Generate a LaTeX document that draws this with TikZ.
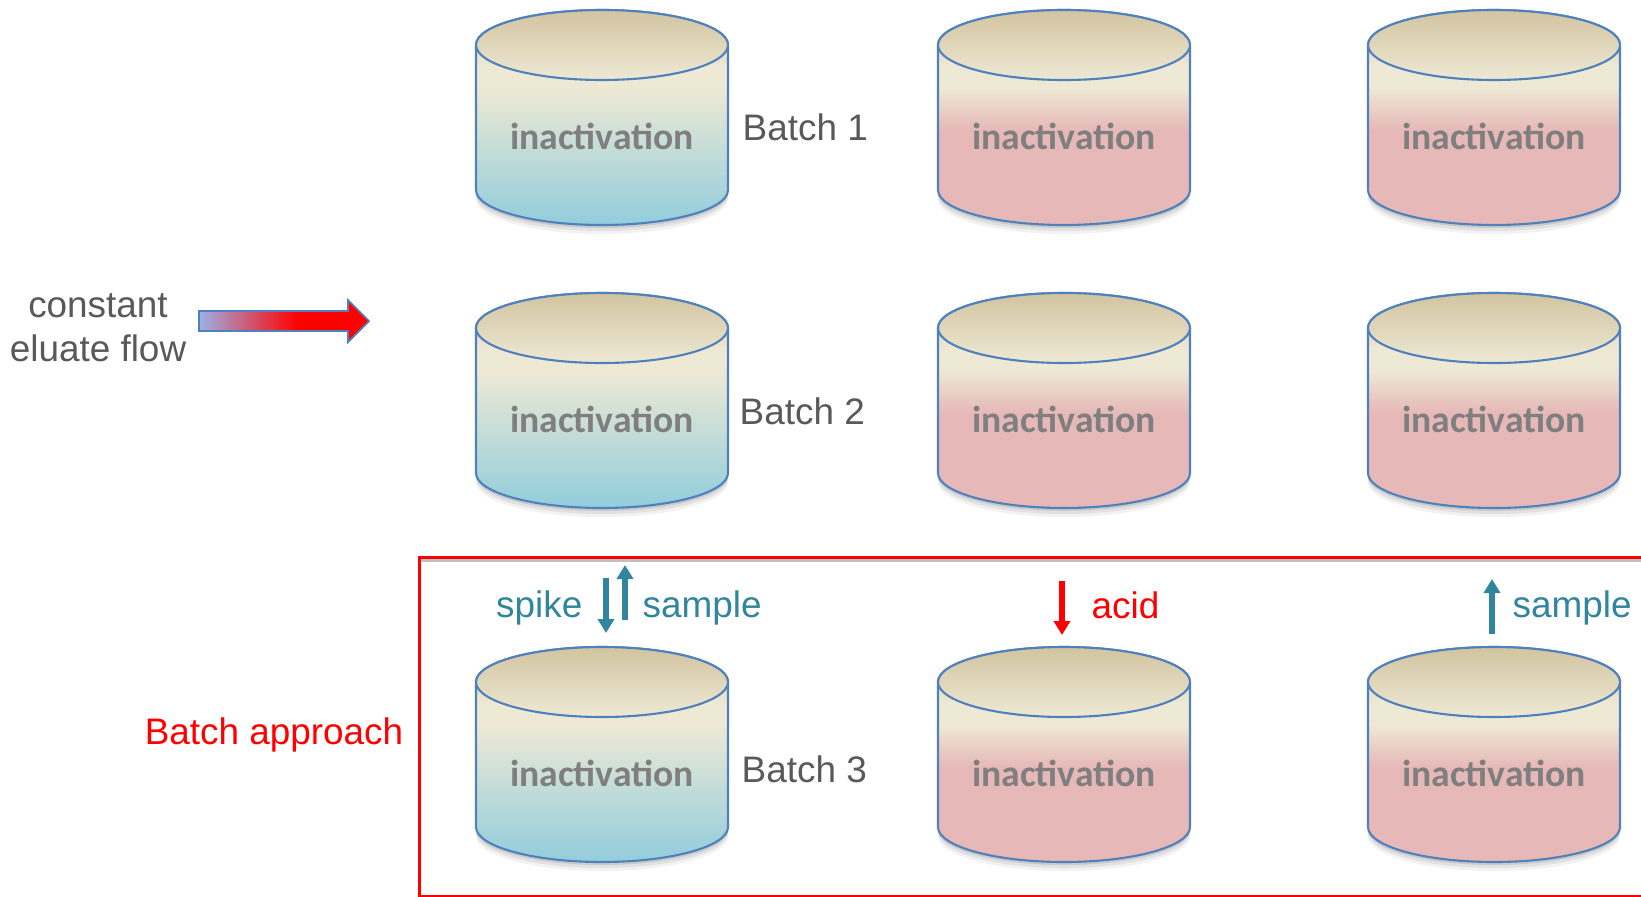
\documentclass[tikz,border=0pt]{standalone}
\usepackage{fontspec}
\setmainfont{Liberation Sans}
\newfontfamily\calibri{Carlito}
\usepackage{xcolor}
\usetikzlibrary{arrows.meta}

\definecolor{cyltan}{HTML}{D2C4A0}
\definecolor{cylcream}{HTML}{EEE9D5}
\definecolor{cylblue}{HTML}{92CDDC}
\definecolor{cylpink}{HTML}{E6B8B7}
\definecolor{cylline}{HTML}{4F81BD}
\definecolor{inactgray}{HTML}{7F7F7F}
\definecolor{batchgray}{HTML}{595959}
\definecolor{sampleteal}{HTML}{31859C}
\definecolor{flowblue}{HTML}{9DB1E6}

\pgfdeclareverticalshading{blueshade}{100bp}{color(0bp)=(cylblue); color(25bp)=(cylblue); color(57bp)=(cylcream); color(62bp)=(cylcream); color(75bp)=(cyltan); color(100bp)=(cyltan)}
\pgfdeclareverticalshading{pinkshade}{100bp}{color(0bp)=(cylpink); color(25bp)=(cylpink); color(47bp)=(cylpink); color(57bp)=(cylcream); color(62bp)=(cylcream); color(75bp)=(cyltan); color(100bp)=(cyltan)}
\pgfdeclarehorizontalshading{flowshade}{100bp}{color(0bp)=(flowblue); color(25bp)=(flowblue); color(54bp)=(red); color(100bp)=(red)}

\tikzset{
  tanktext/.style={font=\calibri\bfseries\fontsize{10.7}{12}\selectfont, text=inactgray, inner sep=0pt},
  txt/.style={font=\fontsize{10.5}{12.5}\selectfont, inner sep=0pt},
  pipe/.style={line width=0.6mm, -{Triangle[width=1.6mm,length=1.4mm]}},
  tankline/.style={draw=cylline, line width=0.6pt},
}

% tank: name, x, y of top centre, shading
\newcommand{\tank}[4]{%
  \begin{scope}[shift={(#2,#3)}]
    \foreach \s/\o in {3/.10,6/.07,9/.05}
      \fill[black,opacity=\o] (-126,\s) -- (-126,145+\s) arc[start angle=180,end angle=360,x radius=12.6mm,y radius=3.5mm] -- (126,\s) -- cycle;
    \path[shading=#4, tankline] (-126,0) -- (-126,145) arc[start angle=180,end angle=360,x radius=12.6mm,y radius=3.5mm]
      -- (126,0) arc[start angle=0,end angle=180,x radius=12.6mm,y radius=3.5mm] -- cycle;
    \path[top color=cyltan, bottom color=cylcream, tankline] (0,0) ellipse [x radius=12.6mm, y radius=3.5mm];
    \node[tanktext] (#1) at (0,91) {inactivation};
  \end{scope}}

\begin{document}
\begin{tikzpicture}[x=0.1mm,y=-0.1mm]
  \useasboundingbox (0,0) rectangle (1641,897);
  \clip (0,0) rectangle (1641,897);

  % batch approach frame
  \draw[black!25, line width=0.3mm] (419,560) -- (1700,560);
  \draw[red, line width=0.3mm] (419,557) rectangle (1700,896);

  % tanks
  \tank{t11}{602}{45}{blueshade}
  \tank{t12}{1064}{45}{pinkshade}
  \tank{t13}{1494}{45}{pinkshade}
  \tank{t21}{602}{328}{blueshade}
  \tank{t22}{1064}{328}{pinkshade}
  \tank{t23}{1494}{328}{pinkshade}
  \tank{t31}{602}{682}{blueshade}
  \tank{t32}{1064}{682}{pinkshade}
  \tank{t33}{1494}{682}{pinkshade}

  \node[txt, text=batchgray, anchor=west] (b1) at (742,127) {Batch 1};
  \node[txt, text=batchgray, anchor=west] (b2) at (739,411) {Batch 2};
  \node[txt, text=batchgray, anchor=west] (b3) at (741,769) {Batch 3};

  % eluate flow
  \node[txt, text=batchgray, align=center] (flow) at (98,328) {constant\\eluate flow};
  \path[shading=flowshade, draw=cylline, line width=0.5pt]
    (199,311) -- (348,311) -- (348,300) -- (369,321) -- (348,342) -- (348,331) -- (199,331) -- cycle;

  \node[txt, text=red] (approach) at (274,735) {Batch approach};

  % additions and samples
  \node[txt, text=sampleteal, anchor=east] (spike) at (583,608) {spike};
  \node[txt, text=sampleteal, anchor=west] (sample1) at (642,608) {sample};
  \node[txt, text=red, anchor=west] (acid) at (1091,605) {acid};
  \node[txt, text=sampleteal, anchor=west] (sample3) at (1512,608) {sample};

  \coordinate (spike-a) at (606,578);
  \coordinate (spike-b) at (606,633);
  \coordinate (sample1-a) at (625,620);
  \coordinate (sample1-b) at (625,565);
  \coordinate (acid-a) at (1062,581);
  \coordinate (acid-b) at (1062,635);
  \coordinate (sample3-a) at (1492,634);
  \coordinate (sample3-b) at (1492,579);
  \draw[pipe, sampleteal] (spike-a) -- (spike-b);
  \draw[pipe, sampleteal] (sample1-a) -- (sample1-b);
  \draw[pipe, red] (acid-a) -- (acid-b);
  \draw[pipe, sampleteal] (sample3-a) -- (sample3-b);
\end{tikzpicture}
\end{document}
